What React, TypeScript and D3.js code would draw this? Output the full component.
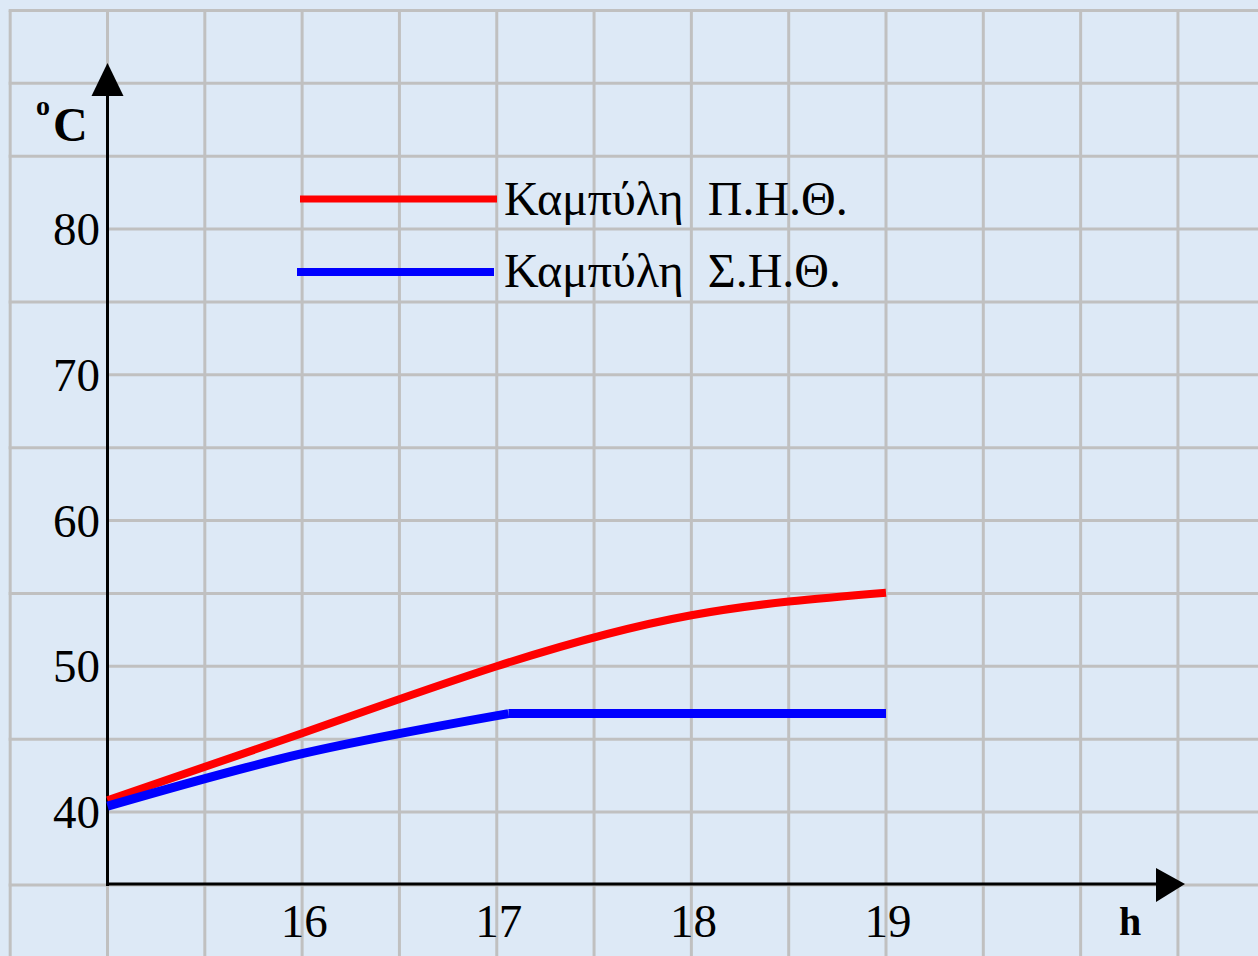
import React from "react";
import * as d3 from "d3";

const redHours = [15, 16, 17, 18, 19];
const redValues = [40.8, 45.4, 50.0, 53.5, 55.05];
const blueRiseHours = [15, 16, 17.06];
const blueRiseValues = [40.4, 44.0, 46.75];
const blueFlatHours = [17.06, 19];
const blueFlatValues = [46.75, 46.75];
const xTicks = [16, 17, 18, 19];
const yTicks = [40, 50, 60, 70, 80];
const legendLabels = ["Καμπύλη  Π.Η.Θ.", "Καμπύλη  Σ.Η.Θ."];
const seriesColors = ["#ff0000", "#0000ff"];

const W = 1258;
const H = 956;
const FONT = "'Liberation Serif', 'Times New Roman', serif";

export default function App() {
  const x = d3.scaleLinear().domain([15, 19]).range([107.5, 886]);
  const y = d3.scaleLinear().domain([40, 80]).range([812, 229]);

  const gridX = d3.range(14.5, 20.51, 0.5);
  const gridY = d3.range(35, 95.1, 5);

  const smooth = d3
    .line<[number, number]>()
    .x((d) => x(d[0]))
    .y((d) => y(d[1]))
    .curve(d3.curveNatural);
  const straight = d3
    .line<[number, number]>()
    .x((d) => x(d[0]))
    .y((d) => y(d[1]));

  const redPts: [number, number][] = redHours.map((h, i) => [h, redValues[i]]);
  const blueRise: [number, number][] = blueRiseHours.map((h, i) => [h, blueRiseValues[i]]);
  const blueFlat: [number, number][] = blueFlatHours.map((h, i) => [h, blueFlatValues[i]]);

  const ax0 = x(15);
  const ay0 = y(35);
  const gridColor = "#c0c0c0";

  return (
    <div style={{ position: "absolute", left: 0, top: 0 }}>
      <svg width={W} height={H} style={{ display: "block" }}>
        <rect x={0} y={0} width={W} height={H} fill="#dde9f6" />
        {/* grid */}
        {gridX.map((g) => (
          <line key={"gx" + g} x1={x(g)} x2={x(g)} y1={y(95)} y2={H} stroke={gridColor} strokeWidth={3} />
        ))}
        {gridY.map((g) => (
          <line
            key={"gy" + g}
            x1={yTicks.includes(g) ? ax0 : x(14.5) - 1.5}
            x2={W}
            y1={y(g)}
            y2={y(g)}
            stroke={gridColor}
            strokeWidth={3}
          />
        ))}
        {/* axes */}
        <line x1={ax0} x2={ax0} y1={ay0 + 1} y2={96} stroke="#000" strokeWidth={3} />
        <polygon points={`${ax0 - 16},96 ${ax0 + 16},96 ${ax0},63`} fill="#000" />
        <line x1={ax0 - 1.5} x2={1157} y1={ay0 - 1} y2={ay0 - 1} stroke="#000" strokeWidth={3} />
        <polygon points={`1156,${ay0 - 17} 1156,${ay0 + 17} 1185,${ay0 - 1}`} fill="#000" />

        {/* y tick labels */}
        {yTicks.map((t) => (
          <text
            key={"yt" + t}
            x={100}
            y={y(t) + 16}
            textAnchor="end"
            fontFamily={FONT}
            fontSize={47}
            fill="#000"
          >
            {t}
          </text>
        ))}
        {/* x tick labels */}
        {xTicks.map((t) => (
          <text
            key={"xt" + t}
            x={x(t) + 2}
            y={937}
            textAnchor="middle"
            fontFamily={FONT}
            fontSize={47}
            fill="#000"
          >
            {t}
          </text>
        ))}
        {/* axis titles */}
        <text x={36} y={115} fontFamily={FONT} fontSize={28} fontWeight="bold" fill="#000">
          o
        </text>
        <text x={53} y={141} fontFamily={FONT} fontSize={48} fontWeight="bold" fill="#000">
          C
        </text>
        <text x={1119} y={935} fontFamily={FONT} fontSize={40} fontWeight="bold" fill="#000">
          h
        </text>

        {/* data lines */}
        <path d={smooth(redPts) || ""} fill="none" stroke={seriesColors[0]} strokeWidth={8} />
        <path d={smooth(blueRise) || ""} fill="none" stroke={seriesColors[1]} strokeWidth={9} />
        <path d={straight(blueFlat) || ""} fill="none" stroke={seriesColors[1]} strokeWidth={9} />

        {/* legend */}
        {legendLabels.map((lab, i) => (
          <g key={"lg" + i}>
            <line
              x1={i === 0 ? 300 : 297}
              x2={i === 0 ? 497 : 494}
              y1={199 + i * 73}
              y2={199 + i * 73}
              stroke={seriesColors[i]}
              strokeWidth={i === 0 ? 7 : 8}
            />
            <text
              x={504}
              y={215 + i * 72}
              fontFamily={FONT}
              fontSize={48}
              fill="#000"
              style={{ whiteSpace: "pre" }}
            >
              {lab}
            </text>
          </g>
        ))}
      </svg>
    </div>
  );
}
